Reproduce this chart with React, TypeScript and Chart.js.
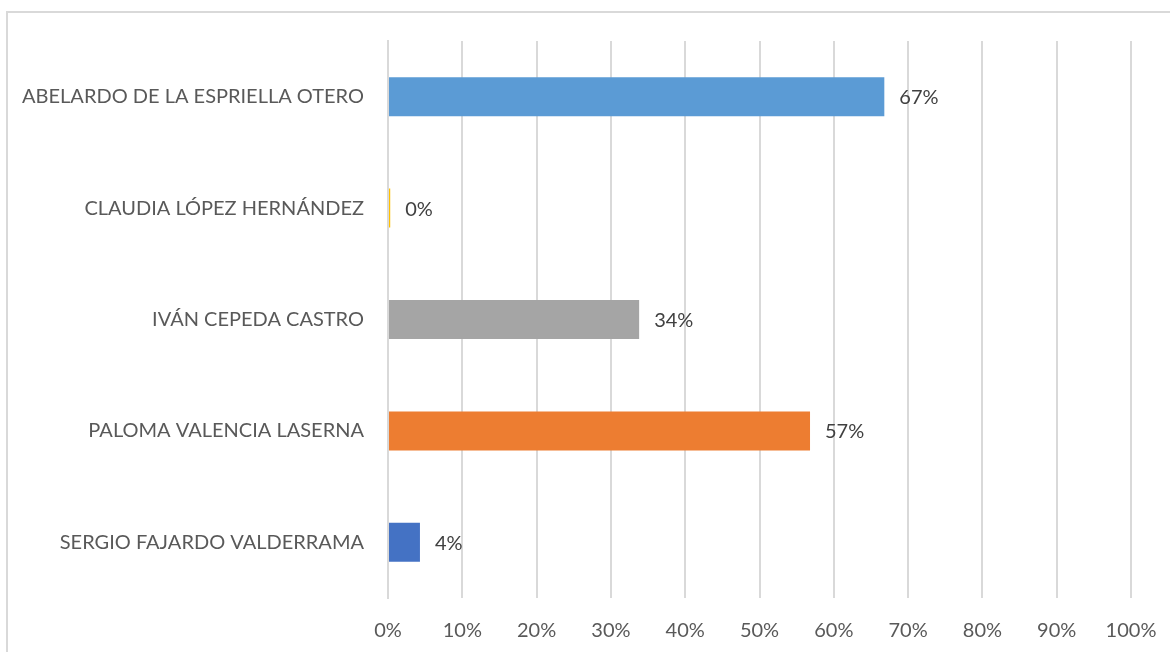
import React, { useEffect, useRef } from "react";
import { Chart, registerables } from "chart.js";

Chart.register(...registerables);

const categories = [
  "ABELARDO DE LA ESPRIELLA OTERO",
  "CLAUDIA LÓPEZ HERNÁNDEZ",
  "IVÁN CEPEDA CASTRO",
  "PALOMA VALENCIA LASERNA",
  "SERGIO FAJARDO VALDERRAMA",
];
const values = [66.8, 0.3, 33.8, 56.8, 4.3];
const valueLabels = ["67%", "0%", "34%", "57%", "4%"];
const barColors = ["#5B9BD5", "#FFC000", "#A5A5A5", "#ED7D31", "#4472C4"];
const xTicks = [0, 10, 20, 30, 40, 50, 60, 70, 80, 90, 100];

const FONT = "Lato, 'Open Sans', sans-serif";

const valueLabelPlugin = {
  id: "valueLabels",
  afterDatasetsDraw(chart: any) {
    const ctx = chart.ctx;
    const meta = chart.getDatasetMeta(0);
    ctx.save();
    ctx.font = `20px ${FONT}`;
    ctx.fillStyle = "#404040";
    ctx.textAlign = "left";
    ctx.textBaseline = "middle";
    meta.data.forEach((bar: any, i: number) => {
      ctx.fillText(valueLabels[i], bar.x + 15, bar.y + 1);
    });
    ctx.restore();
  },
};

export default function App() {
  const ref = useRef<HTMLCanvasElement>(null);
  useEffect(() => {
    if (!ref.current) return;
    const chart = new Chart(ref.current, {
      type: "bar",
      data: {
        labels: categories,
        datasets: [
          {
            data: values,
            backgroundColor: barColors,
            barPercentage: 0.35,
            categoryPercentage: 1,
          },
        ],
      },
      options: {
        indexAxis: "y",
        animation: false,
        responsive: false,
        maintainAspectRatio: false,
        layout: { padding: { top: 41, right: 39, left: 0, bottom: 0 } },
        plugins: { legend: { display: false }, tooltip: { enabled: false } },
        scales: {
          x: {
            min: 0,
            max: 100,
            afterBuildTicks(scale: any) {
              scale.ticks = xTicks.map((v) => ({ value: v }));
            },
            afterFit(scale: any) {
              scale.height = 54;
              scale.paddingLeft = 0;
              scale.paddingRight = 0;
            },
            grid: { color: "#D9D9D9", lineWidth: 2, drawTicks: false },
            border: { display: false },
            ticks: {
              color: "#595959",
              font: { family: FONT, size: 20 },
              padding: 21,
              callback: (v: any) => `${v}%`,
            },
          },
          y: {
            afterFit(scale: any) {
              scale.width = 388;
            },
            grid: { display: false, drawTicks: false },
            border: { display: true, color: "#D9D9D9", width: 2 },
            ticks: {
              color: "#595959",
              font: { family: FONT, size: 20 },
              padding: 24,
            },
          },
        },
      },
      plugins: [valueLabelPlugin],
    });
    return () => chart.destroy();
  }, []);
  return (
    <div style={{ position: "fixed", left: 0, top: 0, width: 1170, height: 652, background: "#fff", overflow: "hidden" }}>
      <div
        style={{
          position: "absolute",
          left: 6,
          top: 11,
          width: 1300,
          height: 800,
          border: "2px solid #D9D9D9",
          boxSizing: "border-box",
        }}
      />
      <canvas ref={ref} width={1170} height={652} style={{ position: "absolute", left: 0, top: 0 }} />
    </div>
  );
}
